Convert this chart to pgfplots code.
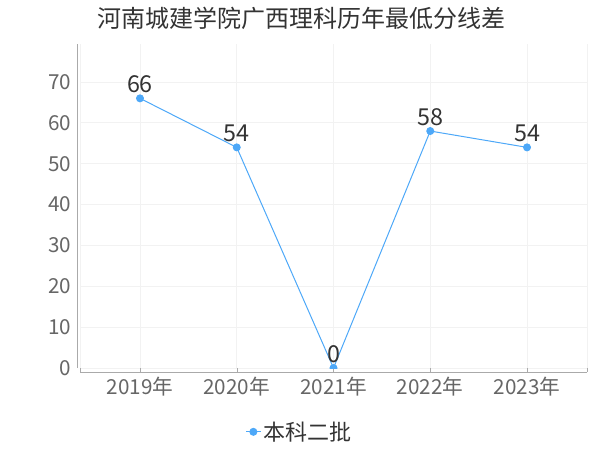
\documentclass[border=0pt]{standalone}
\usepackage{fontspec}
\setmainfont{Noto Sans CJK SC}
\usepackage{pgfplots}
\pgfplotsset{compat=1.18}
\definecolor{linec}{HTML}{4DA8F8}
\definecolor{txt}{HTML}{333333}
\definecolor{tickc}{HTML}{666666}
\definecolor{gridc}{HTML}{F2F2F2}
\definecolor{axisc}{HTML}{AAAAAA}
\begin{document}
\begin{tikzpicture}
% 1px = 0.75pt, canvas 600x450 px
\path[use as bounding box] (0,0) rectangle (450pt,337.5pt);
\node[text=txt,font=\fontsize{18pt}{20pt}\selectfont] at (225.75pt,324pt) {河南城建学院广西理科历年最低分线差};
\begin{axis}[
    at={(60pt,61.5pt)}, anchor=south west,
    scale only axis,
    width=380.25pt, height=243pt,
    xmin=-0.62, xmax=4.62,
    ymin=0, ymax=79.3,
    xtick={0,1,2,3,4},
    xticklabels={2019年,2020年,2021年,2022年,2023年},
    ytick={0,10,20,30,40,50,60,70},
    axis x line*=bottom, axis y line*=left,
    axis line style={draw=axisc,line width=0.75pt,-},
    x axis line style={yshift=-3pt},
    y axis line style={xshift=-1.5pt},
    x tick style={draw=axisc,yshift=-3pt}, y tick style={draw=none},
    major tick length=3pt,
    xmajorgrids, ymajorgrids,
    extra x ticks={-0.62,4.62}, extra x tick labels={},
    extra x tick style={grid=major, tick style={draw=none}},
    grid style={draw=gridc,line width=0.6pt},
    tick label style={text=tickc,font=\fontsize{15.5pt}{17pt}\selectfont},
    /pgf/number format/assume math mode=true,
    yticklabel style={xshift=-3pt},
    xticklabel style={yshift=-3pt},
    clip marker paths=true,
    nodes near coords,
    every node near coord/.style={text=txt,font=\fontsize{17.5pt}{19pt}\selectfont,anchor=south,inner sep=1.5pt,yshift=2pt},
    legend style={at={(0.434,-0.197)}, anchor=center, draw=none, fill=none,
        font=\fontsize{16.5pt}{18pt}\selectfont, text=txt},
    legend image code/.code={
        \draw[mark repeat=2,mark phase=2] plot coordinates {(0cm,0cm)(0.19cm,0cm)(0.38cm,0cm)};},
]
\addplot[color=linec, line width=0.75pt, mark=*, mark size=2.6pt, mark options={fill=linec,draw=linec}]
    coordinates {(0,66) (1,54) (2,0) (3,58) (4,54)};
\addlegendentry{本科二批}
\end{axis}
\end{tikzpicture}
\end{document}
